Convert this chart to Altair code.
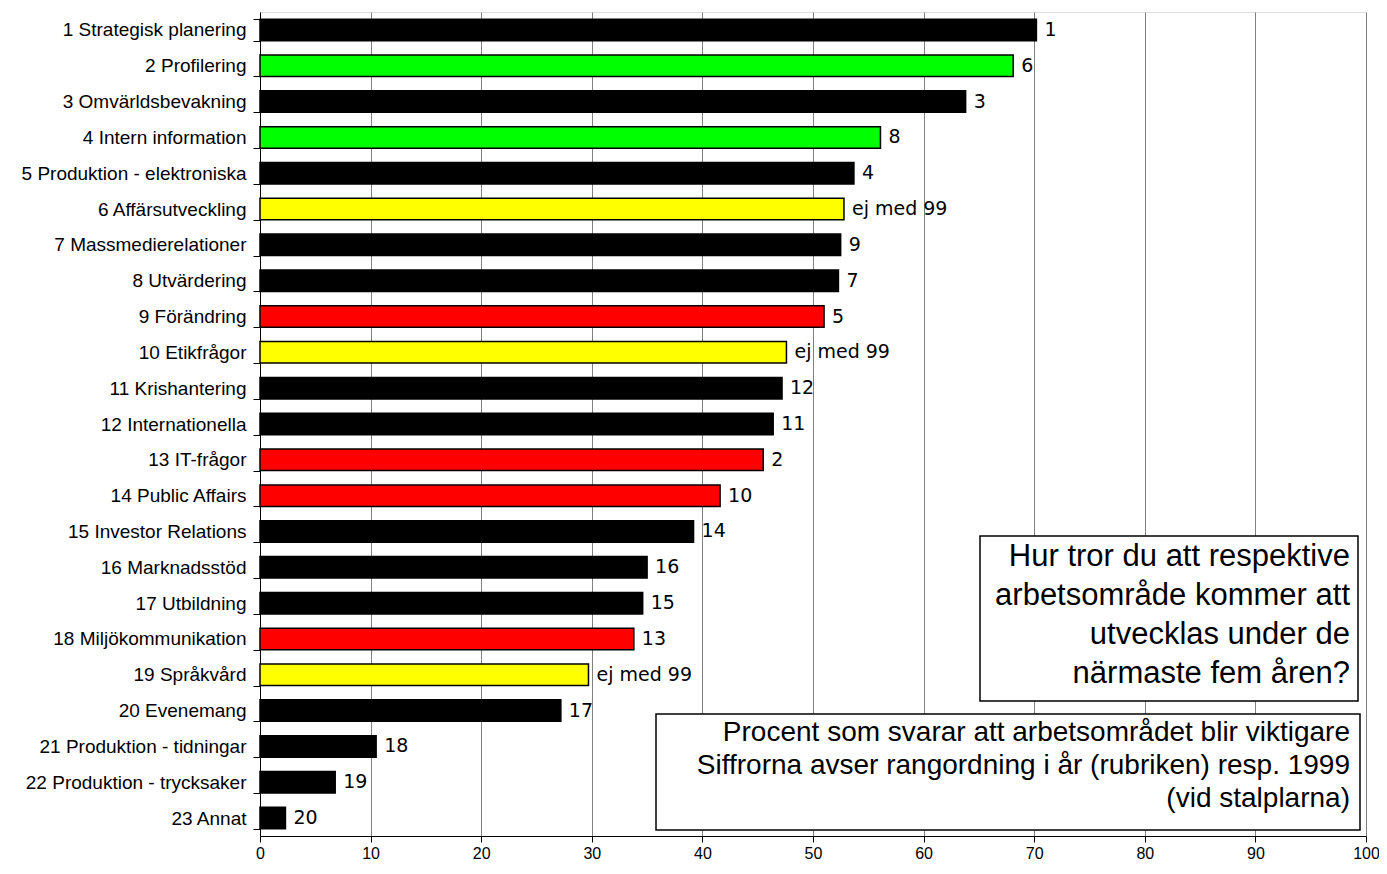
import altair as alt
import pandas as pd

categories = [
    "1 Strategisk planering", "2 Profilering", "3 Omvärldsbevakning",
    "4 Intern information", "5 Produktion - elektroniska", "6 Affärsutveckling",
    "7 Massmedierelationer", "8 Utvärdering", "9 Förändring", "10 Etikfrågor",
    "11 Krishantering", "12 Internationella", "13 IT-frågor", "14 Public Affairs",
    "15 Investor Relations", "16 Marknadsstöd", "17 Utbildning",
    "18 Miljökommunikation", "19 Språkvård", "20 Evenemang",
    "21 Produktion - tidningar", "22 Produktion - trycksaker", "23 Annat",
]
values = [70.2, 68.1, 63.8, 56.1, 53.7, 52.8, 52.5, 52.3, 51.0, 47.6,
          47.2, 46.4, 45.5, 41.6, 39.2, 35.0, 34.6, 33.8, 29.7, 27.2,
          10.5, 6.8, 2.3]
groups = ["svart", "grön", "svart", "grön", "svart", "gul", "svart", "svart",
          "röd", "gul", "svart", "svart", "röd", "röd", "svart", "svart",
          "svart", "röd", "gul", "svart", "svart", "svart", "svart"]
rank_1999 = ["1", "6", "3", "8", "4", "ej med 99", "9", "7", "5", "ej med 99",
             "12", "11", "2", "10", "14", "16", "15", "13", "ej med 99", "17",
             "18", "19", "20"]

group_names = ["svart", "grön", "gul", "röd"]
group_colors = ["#000000", "#00ff00", "#ffff00", "#ff0000"]

box1_lines = ["Hur tror du att respektive", "arbetsområde kommer att",
              "utvecklas under de", "närmaste fem åren?"]
box2_lines = ["Procent som svarar att arbetsområdet blir viktigare",
              "Siffrorna avser rangordning i år (rubriken) resp. 1999",
              "(vid stalplarna)"]

df = pd.DataFrame({"kategori": categories, "procent": values,
                   "grupp": groups, "rang": rank_1999})

W, H = 1106, 824

y_enc = alt.Y("kategori:N", sort=categories, title=None,
              scale=alt.Scale(paddingInner=0.4, paddingOuter=0.2),
              axis=alt.Axis(labelFont="Liberation Sans", labelFontSize=19,
                            labelColor="#000000", domainColor="#000000",
                            tickColor="#000000", tickSize=7, labelPadding=7,
                            tickBand="extent", grid=False, labelLimit=400))
x_enc = alt.X("procent:Q", title=None,
              scale=alt.Scale(domain=[0, 100], nice=False, zero=True),
              axis=alt.Axis(values=list(range(0, 101, 10)), labelFont="Liberation Sans",
                            labelFontSize=16, labelColor="#000000",
                            domainColor="#000000", tickColor="#000000",
                            tickSize=6, labelPadding=3, gridColor="#808080",
                            gridWidth=1, labelFlush=False))

bars = alt.Chart(df).mark_bar(stroke="#000000", strokeWidth=1.5).encode(
    y=y_enc, x=x_enc,
    color=alt.Color("grupp:N", scale=alt.Scale(domain=group_names, range=group_colors),
                    legend=None),
)

labels = alt.Chart(df).mark_text(align="left", baseline="middle", dx=8,
                                 font="DejaVu Sans", fontSize=19, color="#000000").encode(
    y=alt.Y("kategori:N", sort=categories),
    x=alt.X("procent:Q"),
    text="rang:N",
)

box1 = alt.Chart(pd.DataFrame({"a": [0]})).mark_rect(
    fill="#ffffff", stroke="#000000", strokeWidth=1.5).encode(
    x=alt.value(720), x2=alt.value(1098), y=alt.value(524), y2=alt.value(689))
text1 = alt.Chart(pd.DataFrame({"t": [box1_lines]})).mark_text(
    align="right", baseline="middle", font="Liberation Sans", fontSize=31,
    lineHeight=39, color="#000000").encode(
    x=alt.value(1090), y=alt.value(545), text="t")

box2 = alt.Chart(pd.DataFrame({"a": [0]})).mark_rect(
    fill="#ffffff", stroke="#000000", strokeWidth=1.5).encode(
    x=alt.value(396), x2=alt.value(1100), y=alt.value(702), y2=alt.value(818))
text2 = alt.Chart(pd.DataFrame({"t": [box2_lines]})).mark_text(
    align="right", baseline="middle", font="Liberation Sans", fontSize=28,
    lineHeight=33, color="#000000").encode(
    x=alt.value(1090), y=alt.value(721), text="t")

chart = alt.layer(bars, labels, box1, text1, box2, text2).properties(
    width=W, height=H,
    autosize=alt.AutoSizeParams(type="none"),
    padding={"left": 252, "top": 4, "right": 13, "bottom": 27},
).configure_view(stroke="#808080", strokeWidth=1).configure(background="#ffffff")

chart.save("out.html", embed_options={"renderer": "svg", "actions": False})
